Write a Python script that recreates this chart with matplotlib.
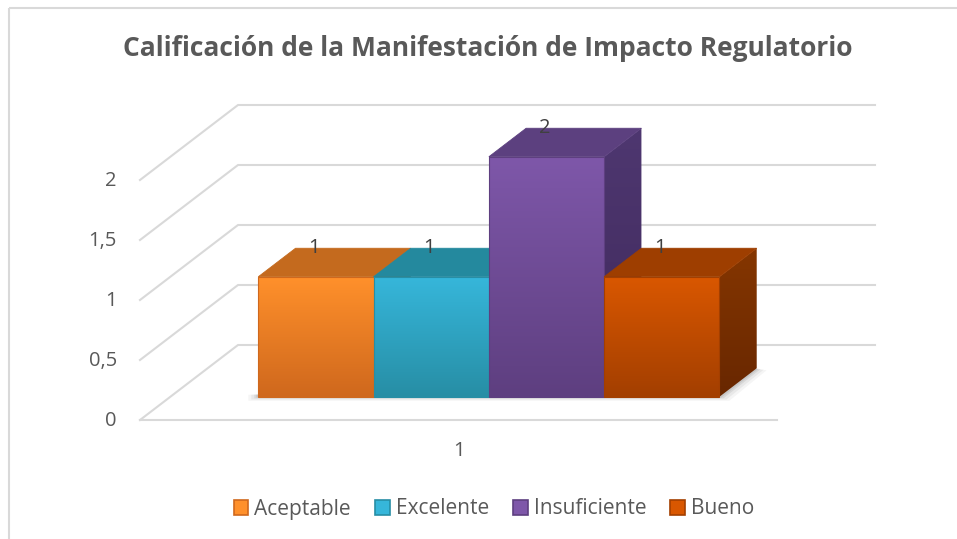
import numpy as np
import matplotlib
matplotlib.use("Agg")
import matplotlib.pyplot as plt
from matplotlib.patches import Polygon, Rectangle, Patch
from matplotlib.colors import to_rgb

# data
categories = ["1"]
series = ["Aceptable", "Excelente", "Insuficiente", "Bueno"]
values = [1, 1, 2, 1]
yticks = [0, 0.5, 1, 1.5, 2]
ytick_labels = ["0", "0,5", "1", "1,5", "2"]
title = "Calificación de la Manifestación de Impacto Regulatorio"

# colours: front top, front bottom, top face, side top, side bottom
front_top = ["#FF902B", "#36B6DA", "#7E57A9", "#D95700"]
front_bot = ["#CF681D", "#278EA5", "#5E3F80", "#A33F00"]
top_col = ["#C46A1E", "#24899E", "#5C407F", "#9E3E00"]
side_top = ["#B45F19", "#1F7A8E", "#4E3770", "#853600"]
side_bot = ["#96500F", "#196678", "#40295C", "#682700"]

plt.rcParams['font.family'] = ['Open Sans', 'DejaVu Sans']
TXT = "#595959"

# oblique "3d" layout (pixels)
X_LEFT, X_RIGHT = 140, 777
Y_ZERO = 420
PX_PER_UNIT = 120
DX, DY = 98, -75
BAR_Z = (0.31, 0.69)
GROUP = (0.138, 0.862)


def proj(u, v, z):
    x = X_LEFT + u * (X_RIGHT - X_LEFT) + z * DX
    y = Y_ZERO - v * PX_PER_UNIT + z * DY
    return (x, y)


def grad_poly(ax, pts, c1, c2, zorder):
    poly = Polygon(pts, closed=True, facecolor="none", edgecolor="none", zorder=zorder)
    ax.add_patch(poly)
    pts = np.array(pts)
    a, b = np.array(to_rgb(c1)), np.array(to_rgb(c2))
    t = np.linspace(0, 1, 64)[:, None]
    arr = (a * (1 - t) + b * t)[:, None, :]
    im = ax.imshow(arr, extent=[pts[:, 0].min(), pts[:, 0].max(),
                                pts[:, 1].max(), pts[:, 1].min()],
                   aspect="auto", interpolation="bilinear", zorder=zorder)
    im.set_clip_path(poly)
    return poly


fig = plt.figure(figsize=(9.57, 5.39), dpi=100)
ax = fig.add_axes([0, 0, 1, 1])

# chart border
ax.add_patch(Rectangle((8.5, 7.5), 1200, 1200, fill=False, edgecolor="#D9D9D9", lw=1.5, zorder=0))

# gridlines: back wall + left wall
gc = "#D9D9D9"
for v in yticks:
    p0, p1 = proj(0, v, 0), proj(0, v, 1)
    p2 = proj(1, v, 1)
    ax.plot([p0[0], p1[0], p2[0]], [p0[1], p1[1], p2[1]], color=gc, lw=1.5, zorder=1)
# floor front edge
f0, f1 = proj(0, 0, 0), proj(1, 0, 0)
ax.plot([f0[0], f1[0]], [f0[1], f1[1]], color=gc, lw=1.5, zorder=1)

# tick labels
for v, lab in zip(yticks, ytick_labels):
    x, y = proj(0, v, 0)
    ax.text(x - 23, y + 1, lab, ha="right", va="center", fontsize=14.5, color=TXT)

# category label
cx, cy = proj(0.5, 0, 0)
ax.text(cx, cy + 31, categories[0], ha="center", va="center", fontsize=14.5, color=TXT)

# shadow under the bars
n = len(values)
bw = (GROUP[1] - GROUP[0]) / n
z0, z1 = BAR_Z
for k, al in [(10, 0.04), (7, 0.05), (4, 0.07), (2, 0.08)]:
    s = [proj(GROUP[0], 0, z0), proj(GROUP[1], 0, z0), proj(GROUP[1], 0, z1)]
    s = [(s[0][0] - k, s[0][1] + k * 0.4), (s[1][0] + k, s[1][1] + k * 0.4),
         (s[2][0] + k, s[2][1] + k * 0.2), (s[2][0] - 10, s[2][1]), (s[0][0] - k, s[0][1] - 2)]
    ax.add_patch(Polygon(s, closed=True, facecolor="#000000", alpha=al, edgecolor="none", zorder=2))

# bars
for i, (name, val) in enumerate(zip(series, values)):
    u0 = GROUP[0] + i * bw
    u1 = u0 + bw
    zo = 3 + i * 0.1
    front = [proj(u0, 0, z0), proj(u1, 0, z0), proj(u1, val, z0), proj(u0, val, z0)]
    top = [proj(u0, val, z0), proj(u1, val, z0), proj(u1, val, z1), proj(u0, val, z1)]
    side = [proj(u1, 0, z0), proj(u1, 0, z1), proj(u1, val, z1), proj(u1, val, z0)]
    grad_poly(ax, side, side_top[i], side_bot[i], zo)
    ax.add_patch(Polygon(top, closed=True, facecolor=top_col[i], edgecolor=top_col[i], lw=0.6, zorder=zo + 0.01))
    grad_poly(ax, front, front_top[i], front_bot[i], zo + 0.02)
    ax.add_patch(Polygon(front, closed=True, fill=False, edgecolor=front_bot[i], lw=0.8, zorder=zo + 0.03))
    lx = proj((u0 + u1) / 2, val, z0)[0]
    ly = proj(u0, val, z1)[1]
    ax.text(lx - 2, ly, f"{val}", ha="center", va="center", fontsize=14.5, color="#404040", zorder=10)

# title
ax.text(488, 48, title, ha="center", va="center", fontsize=19, fontweight="bold", color=TXT)

# legend
handles = [Patch(facecolor=front_top[i], edgecolor=front_bot[i], lw=1.2) for i in range(n)]
fig.legend(handles, series, loc="center", bbox_to_anchor=(494 / 957, 1 - 509 / 539), ncol=4,
           frameon=False, handlelength=0.7, handleheight=0.7, handletextpad=0.3,
           columnspacing=1.15, prop={"family": "Open Sans", "size": 15}, labelcolor=TXT)

ax.set_xlim(0, 957)
ax.set_ylim(539, 0)
ax.axis("off")

fig.savefig("out.png", dpi=100)
